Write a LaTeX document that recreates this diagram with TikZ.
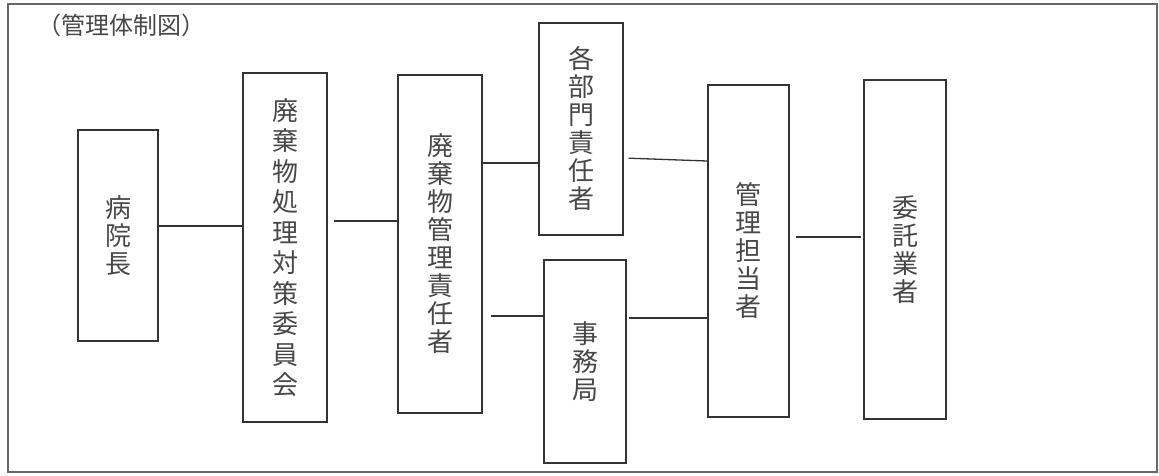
\documentclass[tikz,border=0pt]{standalone}
\usepackage{fontspec}
\newfontfamily\cjk{Noto Sans CJK JP}
\definecolor{boxc}{gray}{0.2}
\definecolor{txtc}{gray}{0.28}
\definecolor{framec}{gray}{0.4}
\begin{document}
\begin{tikzpicture}[x=1pt,y=-1pt,
  box/.style={draw=boxc, line width=1.4pt, inner sep=0pt, text=txtc, align=center,
    font=\cjk\fontsize{26}{28}\selectfont},
  widebox/.style={box, font=\cjk\fontsize{26}{30.5}\selectfont},
  link/.style={draw=boxc, line width=1.3pt}]
\useasboundingbox (0,0) rectangle (1159,475);
\draw[framec, line width=1.2pt] (8,4) rectangle (1157,472);
\node[anchor=west, inner sep=0pt, text=txtc, font=\cjk\fontsize{24}{24}\selectfont] (title) at (37,25) {（管理体制図）};

\node[box, minimum width=80pt, minimum height=211pt] (b1) at (118,235.5) {病\\院\\長};
\node[widebox, minimum width=84pt, minimum height=349pt] (b2) at (285,247.5) {廃\\棄\\物\\処\\理\\対\\策\\委\\員\\会};
\node[box, minimum width=84pt, minimum height=338pt] (b3) at (440,244) {廃\\棄\\物\\管\\理\\責\\任\\者};
\node[box, minimum width=84pt, minimum height=212pt] (b4) at (581,129) {各\\部\\門\\責\\任\\者};
\node[box, minimum width=82pt, minimum height=203pt] (b5) at (585,361.5) {事\\務\\局};
\node[box, minimum width=81pt, minimum height=332pt] (b6) at (748.5,251) {管\\理\\担\\当\\者};
\node[box, minimum width=82pt, minimum height=339pt] (b7) at (905,249.5) {委\\託\\業\\者};

\draw[link] (b1.east |- 0,226) -- (b2.west |- 0,226);
\draw[link, shorten <=6pt] (b2.east |- 0,221) -- (b3.west |- 0,221);
\draw[link] (b3.east |- 0,163) -- (b4.west |- 0,163);
\draw[link, shorten <=5pt] (b4.east |- 0,158) -- (b6.west |- 0,161);
\draw[link, shorten <=8pt] (b3.east |- 0,316) -- (b5.west |- 0,316);
\draw[link, shorten <=2pt] (b5.east |- 0,318) -- (b6.west |- 0,318);
\draw[link, shorten <=6pt, shorten >=2pt] (b6.east |- 0,237) -- (b7.west |- 0,237);
\end{tikzpicture}
\end{document}
